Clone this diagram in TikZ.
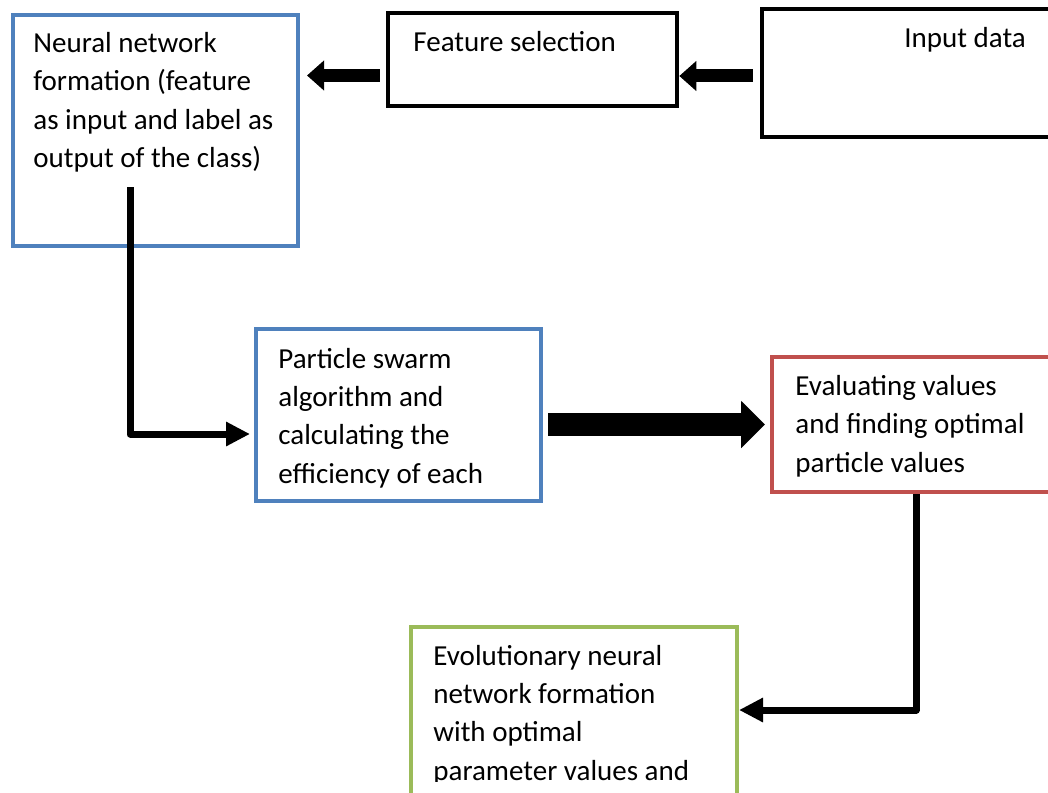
\documentclass[tikz,border=0pt]{standalone}
\usepackage{fontspec}
\setmainfont{Carlito}
\usepackage{tikz}
\usetikzlibrary{arrows.meta, positioning}
\definecolor{boxblue}{RGB}{79,129,189}
\definecolor{boxred}{RGB}{192,80,77}
\definecolor{boxgreen}{RGB}{155,187,89}
\tikzstyle{stepbox} = [rectangle, draw=black, line width=2pt, fill=white, inner sep=0pt]
\tikzstyle{txt} = [anchor=base west, inner sep=0pt, align=left, font=\fontsize{14.5}{19.15}\selectfont]
\tikzstyle{arrow} = [line width=6.5pt, -{Triangle[length=8.5pt, width=14.5pt]}]
\tikzstyle{elbow} = [line width=3.5pt, line join=round, -{Triangle[length=12pt, width=11.5pt]}]
\tikzstyle{bigarrow} = [line width=11.5pt, -{Triangle[length=12pt, width=23pt]}]

\begin{document}
\begin{tikzpicture}[x=0.5pt, y=-0.5pt]
\useasboundingbox (0,0) rectangle (1048,792);
\clip (0,0) rectangle (1048,792);

\node (nnf) [stepbox, draw=boxblue, minimum width=142.5pt, minimum height=115.5pt] at (155.5,130.5) {};
\node (fs) [stepbox, minimum width=144.5pt, minimum height=46.5pt, line width=2.3pt] at (532.5,59.5) {};
\node (input) [stepbox, minimum width=149pt, minimum height=64pt, line width=2.3pt] at (911,73) {};
\node (psw) [stepbox, draw=boxblue, minimum width=142.5pt, minimum height=86pt] at (398.5,415) {};
\node (eval) [stepbox, draw=boxred, minimum width=144pt, minimum height=67.5pt] at (916,424.5) {};
\node (evo) [stepbox, draw=boxgreen, minimum width=163pt, minimum height=101.5pt] at (574,728.5) {};

% text anchors sit on the last baseline
\node (nnftext) [txt] at (33,167.5) {Neural network\\formation (feature\\as input and label as\\output of the class)};
\node (fstext) [txt] at (413,52) {Feature selection};
\node (inputtext) [txt] at (904,48) {Input data};
\node (pswtext) [txt] at (278,483) {Particle swarm\\algorithm and\\calculating the\\efficiency of each};
\node (evaltext) [txt] at (795,472) {Evaluating values\\and finding optimal\\particle values};
\begin{scope}
\clip (0,0) rectangle (1048,781);
\node (evotext) [txt] at (433,780) {Evolutionary neural\\network formation\\with optimal\\parameter values and};
\end{scope}

\draw [arrow, shorten <=3.5pt] ([yshift=-1.5pt]input.west) -- ([yshift=-1.5pt]input.west -| fs.east);
\draw [arrow, shorten <=3pt, shorten >=3.5pt] ([yshift=-8pt]fs.west) -- ([yshift=-8pt]fs.west -| nnf.east);
\draw [elbow, shorten >=2pt] ([xshift=-12.75pt, yshift=30.5pt]nnf.south) |- ([yshift=-9.5pt]psw.west);
\draw [bigarrow, shorten <=2.5pt, shorten >=2.5pt] (psw.east |- eval.west) -- (eval.west);
\draw [elbow] (eval.south) |- ([yshift=9.25pt]evo.east);

\end{tikzpicture}
\end{document}
